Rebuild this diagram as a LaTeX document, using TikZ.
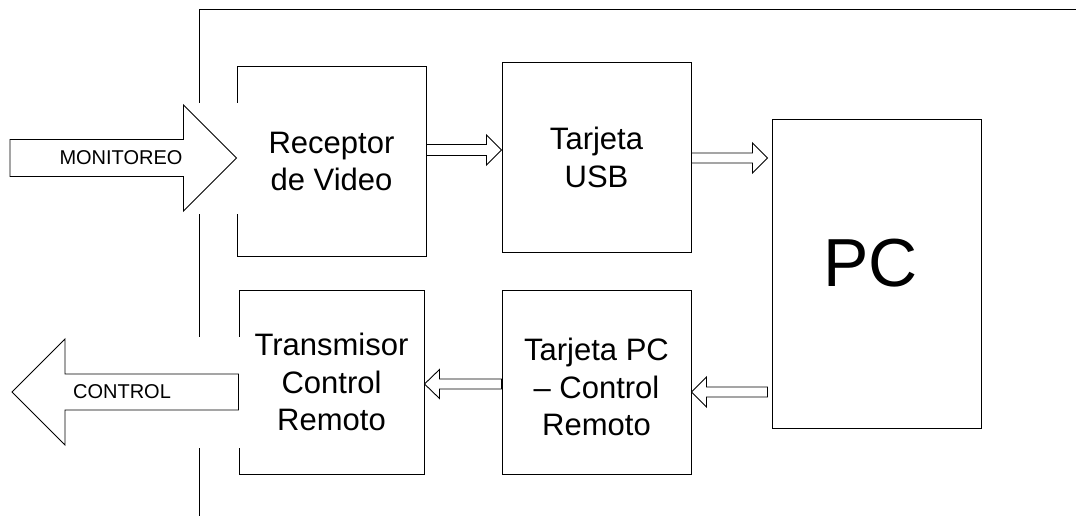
\documentclass[tikz,border=0pt]{standalone}
\usepackage{fontspec}
\setmainfont{Liberation Sans}
\usetikzlibrary{calc}
\tikzset{
  box/.style={draw, line width=1pt, inner sep=0pt, align=center,
    font=\fontsize{31}{37.5}\selectfont},
  boxtext/.style={inner sep=0pt, align=center, font=\fontsize{31}{37.5}\selectfont},
  barrow/.style={draw, fill=white, line width=0.9pt, line join=miter},
  arrowlabel/.style={font=\fontsize{20}{24}\selectfont, inner sep=0pt},
  frameline/.style={line width=1pt},
  mask/.style={fill=white, draw=none},
}
% Horizontal block arrow: #1 tail, #2 tip, #3 shaft half-width,
% #4 head half-width, #5 head length (negative for leftward arrows)
\newcommand{\blockarr}[5]{%
  \draw[barrow] let \p1=(#1), \p2=(#2) in
    (\x1,{\y2+#3}) -- ({\x2-(#5)},{\y2+#3}) -- ({\x2-(#5)},{\y2+#4})
    -- (\x2,\y2) -- ({\x2-(#5)},{\y2-#4}) -- ({\x2-(#5)},{\y2-#3})
    -- (\x1,{\y2-#3}) -- cycle;}

\begin{document}
\begin{tikzpicture}[x=1pt,y=-1pt]
\useasboundingbox (0,0) rectangle (1076,516);

% outer frame
\coordinate (fb) at (199.5,516);
\coordinate (fc) at (199.5,10);
\coordinate (fr) at (1076,10);
\draw[frameline] (fb) -- (fc) -- (fr);

% blocks
\node[box, minimum width=189pt, minimum height=189pt] (rx) at (331.5,161.5) {Receptor\\de Video};
\node[box, minimum width=189pt, minimum height=189pt] (usb) at (596.5,157.5) {Tarjeta\\USB};
\node[box, minimum width=209pt, minimum height=308pt,
  label={[boxtext, font=\fontsize{68}{80}\selectfont, xshift=-6pt, yshift=11pt]center:PC}] (pc) at (876.5,274) {};
\node[box, minimum width=185pt, minimum height=184pt] (tx) at (331.5,382) {Transmisor\\Control\\Remoto};
\node[box, minimum width=189pt, minimum height=184pt,
  label={[boxtext, yshift=-5pt]center:Tarjeta PC\\– Control\\Remoto}] (tpc) at (596.5,382) {};

% white areas behind the large arrows
\fill[mask] (9,103) rectangle (238,213.5);
\fill[mask] (11,337) rectangle (240,447.5);

% signal flow
\coordinate (mt) at (10,158);
\coordinate (ct) at (12,392);
\blockarr{mt}{rx.west |- 0,158}{18.5pt}{53pt}{53pt}
\blockarr{rx.east |- 0,150}{usb.west |- 0,150}{5.5pt}{15pt}{15pt}
\blockarr{usb.east |- 0,158}{$(pc.west |- 0,158)+(-4,0)$}{5pt}{15pt}{15pt}
\blockarr{$(pc.west |- 0,392)+(-4,0)$}{tpc.east |- 0,392}{5pt}{15pt}{-15pt}
\blockarr{tpc.west |- 0,384}{tx.east |- 0,384}{5pt}{14.5pt}{-15pt}
\blockarr{tx.west |- 0,392}{ct}{18pt}{53pt}{-53pt}

\node[arrowlabel] (mon) at (121,158) {MONITOREO};
\node[arrowlabel] (ctl) at (122,392) {CONTROL};
\end{tikzpicture}
\end{document}
